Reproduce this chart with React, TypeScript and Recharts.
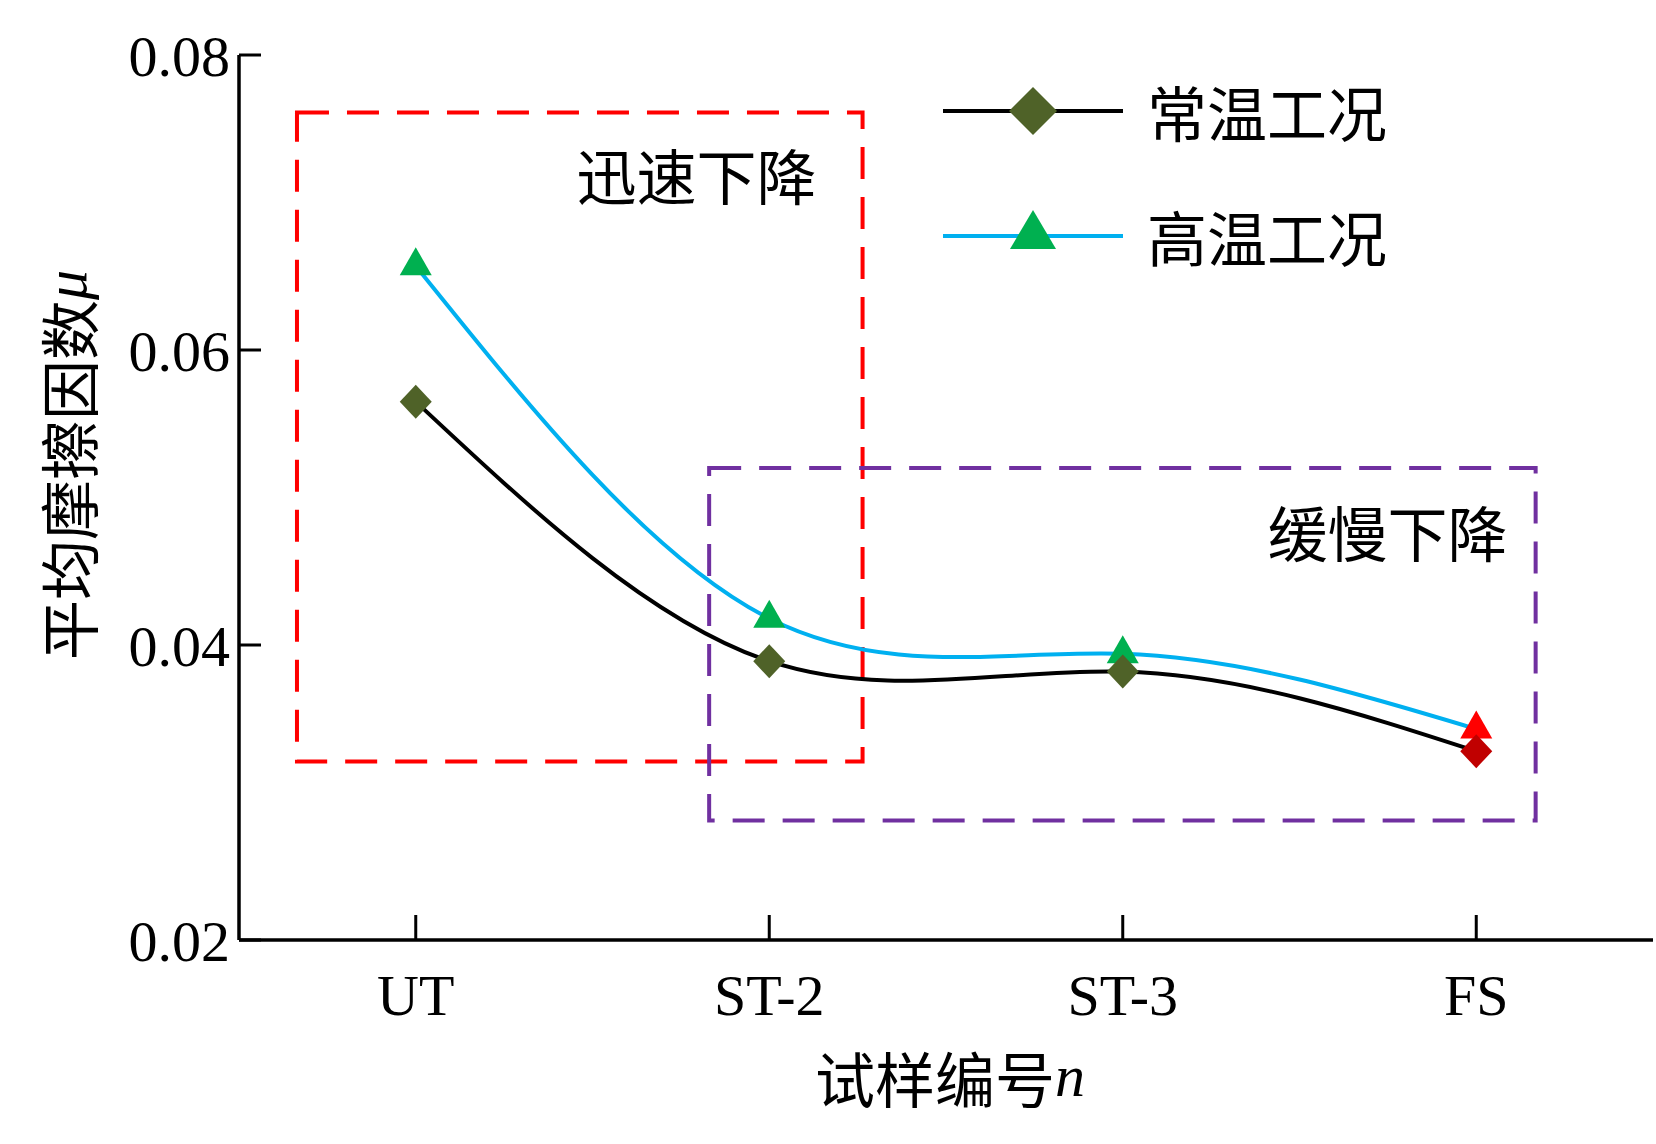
import { LineChart, Line, XAxis, YAxis, ReferenceArea, Label } from "recharts";

// sample names on the x axis
const categories = ["UT", "ST-2", "ST-3", "FS"];
// mean friction coefficient, room temperature (常温工况)
const normalTemp = [0.0565, 0.0389, 0.0382, 0.0328];
// mean friction coefficient, high temperature (高温工况)
const highTemp = [0.0657, 0.0418, 0.0394, 0.0343];
const yTicks = [0.02, 0.04, 0.06, 0.08];

// annotation boxes, in data units [x1, x2, y1, y2]
const fastBox = [-0.336, 1.264, 0.0321, 0.0761];
const slowBox = [0.83, 3.168, 0.0281, 0.052];

const data = categories.map((name, i) => ({
  idx: i,
  name,
  normal: normalTemp[i],
  high: highTemp[i],
}));

const SERIF = '"Liberation Serif", "Times New Roman", serif';
const CJK = '"Noto Sans CJK SC", sans-serif';

const DiamondDot = (props: any) => {
  const { cx, cy, index } = props;
  const fill = index === categories.length - 1 ? "#C00000" : "#4F6228";
  const w = 16;
  const h = 17;
  return (
    <polygon
      key={`dia-${index}`}
      points={`${cx},${cy - h} ${cx + w},${cy} ${cx},${cy + h} ${cx - w},${cy}`}
      fill={fill}
    />
  );
};

const TriangleDot = (props: any) => {
  const { cx, cy, index } = props;
  const fill = index === categories.length - 1 ? "#FF0000" : "#00B050";
  const w = 16;
  const h = 28;
  return (
    <polygon
      key={`tri-${index}`}
      points={`${cx},${cy - (h * 2) / 3} ${cx + w},${cy + h / 3} ${cx - w},${cy + h / 3}`}
      fill={fill}
    />
  );
};

const LegendBox = () => {
  const rows = [
    { label: "常温工况", stroke: "#000000", shape: "diamond" },
    { label: "高温工况", stroke: "#00B0F0", shape: "triangle" },
  ];
  return (
    <div style={{ position: "absolute", left: 943, top: 81 }}>
      {rows.map((r, i) => (
        <div
          key={r.label}
          style={{ display: "flex", alignItems: "center", height: 60, marginBottom: i === 0 ? 65 : 0 }}
        >
          <svg width={180} height={60}>
            <line x1={0} y1={30} x2={180} y2={30} stroke={r.stroke} strokeWidth={4} />
            {r.shape === "diamond" ? (
              <polygon points="90,6 114,30 90,54 66,30" fill="#4F6228" />
            ) : (
              <polygon points="90,4 113,43 67,43" fill="#00B050" />
            )}
          </svg>
          <span
            style={{
              marginLeft: 24,
              fontFamily: CJK,
              fontSize: 60,
              lineHeight: "60px",
              color: "#000",
            }}
          >
            {r.label}
          </span>
        </div>
      ))}
    </div>
  );
};

const boxLabel = (text: string, right: number, down: number) => (props: any) => {
  const { x, y, width } = props.viewBox;
  return (
    <text
      x={x + width - right}
      y={y + down}
      textAnchor="end"
      dominantBaseline="central"
      fontFamily={CJK}
      fontSize={60}
      fill="#000"
    >
      {text}
    </text>
  );
};

const App = () => {
  return (
    <div style={{ position: "absolute", left: 0, top: 0, width: 1656, height: 1144, background: "#fff" }}>
      <LineChart
        width={1656}
        height={1144}
        data={data}
        margin={{ top: 55, right: 3, bottom: 0, left: 0 }}
      >
        <XAxis
          dataKey="idx"
          type="number"
          domain={[-0.5, 3.5]}
          ticks={[0, 1, 2, 3]}
          tickFormatter={(v: number) => categories[v]}
          height={204}
          axisLine={{ stroke: "#000", strokeWidth: 3.5 }}
          tickLine={{ stroke: "#000", strokeWidth: 3 }}
          tickSize={-25}
          tickMargin={59}
          tick={{ fill: "#000", fontFamily: SERIF, fontSize: 58 }}
        >
          <Label
            content={(props: any) => {
              const { x, y, width } = props.viewBox;
              return (
                <text
                  x={x + width / 2 + 4}
                  y={y + 136}
                  textAnchor="middle"
                  dominantBaseline="central"
                  fontSize={60}
                  fill="#000"
                >
                  <tspan fontFamily={CJK}>试样编号</tspan>
                  <tspan fontFamily={SERIF} fontStyle="italic">n</tspan>
                </text>
              );
            }}
          />
        </XAxis>
        <YAxis
          type="number"
          domain={[0.02, 0.08]}
          ticks={yTicks}
          tickFormatter={(v: number) => v.toFixed(2)}
          width={239}
          axisLine={{ stroke: "#000", strokeWidth: 3.5 }}
          tickLine={{ stroke: "#000", strokeWidth: 3 }}
          tickSize={-22}
          tickMargin={31}
          tick={{ fill: "#000", fontFamily: SERIF, fontSize: 58 }}
        >
          <Label
            content={() => (
              <text
                x={66}
                y={465}
                transform="rotate(-90, 66, 465)"
                textAnchor="middle"
                dominantBaseline="central"
                fontSize={60}
                fill="#000"
              >
                <tspan fontFamily={CJK}>平均摩擦因数</tspan>
                <tspan fontFamily={SERIF} fontStyle="italic">μ</tspan>
              </text>
            )}
          />
        </YAxis>
        <Line
          type="natural"
          dataKey="high"
          stroke="#00B0F0"
          strokeWidth={4}
          dot={(p: any) => <TriangleDot {...p} />}
          activeDot={false}
          isAnimationActive={false}
        />
        <Line
          type="natural"
          dataKey="normal"
          stroke="#000000"
          strokeWidth={4}
          dot={(p: any) => <DiamondDot {...p} />}
          activeDot={false}
          isAnimationActive={false}
        />
        <ReferenceArea
          x1={fastBox[0]}
          x2={fastBox[1]}
          y1={fastBox[2]}
          y2={fastBox[3]}
          fill="none"
          fillOpacity={0}
          stroke="#FF0000"
          strokeWidth={4}
          strokeDasharray="32 18"
          label={boxLabel("迅速下降", 46, 61)}
        />
        <ReferenceArea
          x1={slowBox[0]}
          x2={slowBox[1]}
          y1={slowBox[2]}
          y2={slowBox[3]}
          fill="none"
          fillOpacity={0}
          stroke="#7030A0"
          strokeWidth={4}
          strokeDasharray="32 18"
          label={boxLabel("缓慢下降", 28, 62)}
        />
      </LineChart>
      <LegendBox />
    </div>
  );
};

export default App;
